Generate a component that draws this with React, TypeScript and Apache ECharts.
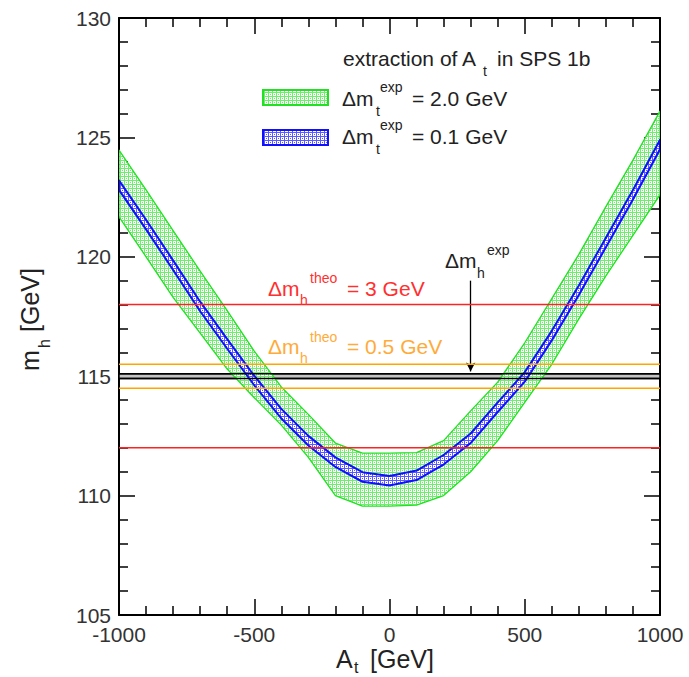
import React, { useEffect, useRef } from 'react';
import * as echarts from 'echarts';

// ---- data ----
const aGrid = [-1000, -900, -800, -700, -600, -500, -400, -300, -200, -100, 0, 100, 200, 300, 400, 500, 600, 700, 800, 900, 1000];
// Δm_t^exp = 2.0 GeV band
const greenUpper = [124.47, 122.8, 121.1, 119.4, 117.75, 116.05, 114.55, 113.4, 112.2, 111.78, 111.78, 111.8, 112.3, 113.55, 114.75, 116.4, 118.25, 120.1, 122.1, 124.05, 126.1];
const greenLower = [121.67, 120.0, 118.3, 116.8, 115.3, 114.1, 112.95, 111.6, 110.0, 109.56, 109.56, 109.6, 110.0, 111.0, 112.3, 113.9, 115.5, 117.4, 119.2, 120.9, 122.6];
// Δm_t^exp = 0.1 GeV band
const blueUpper = [123.2, 121.55, 119.85, 118.12, 116.55, 115.02, 113.63, 112.5, 111.6, 110.98, 110.82, 111.05, 111.7, 112.6, 113.9, 115.17, 116.9, 118.8, 120.8, 122.8, 124.9];
const blueLower = [122.8, 121.15, 119.45, 117.72, 116.15, 114.62, 113.23, 112.1, 111.2, 110.58, 110.42, 110.65, 111.3, 112.2, 113.5, 114.77, 116.5, 118.4, 120.4, 122.4, 124.5];
// horizontal reference levels
const theo3Levels = [112, 118];
const theo05Levels = [114.5, 115.5];
const expBand = [114.9, 115.1];
const arrowA = 300;
const arrowFrom = 119.0;
const arrowTo = 115.2;
const xRange = [-1000, 1000];
const yRange = [105, 130];

const FONT = '"Liberation Sans", Arial, Helvetica, sans-serif';

function makePattern(fg: string) {
  const c = document.createElement('canvas');
  c.width = 4;
  c.height = 4;
  const ctx = c.getContext('2d')!;
  ctx.fillStyle = '#ffffff';
  ctx.fillRect(0, 0, 4, 4);
  ctx.fillStyle = fg;
  ctx.fillRect(0, 0, 4, 1);
  ctx.fillRect(0, 0, 1, 4);
  ctx.fillRect(2, 2, 1, 1);
  return { image: c, repeat: 'repeat', imageWidth: 4, imageHeight: 4 } as any;
}

function txt(text: string, x: number, y: number, size: number, color: string, extra: any = {}) {
  return {
    type: 'text',
    x,
    y,
    silent: true,
    z: 100,
    ...extra,
    style: {
      text,
      fill: color,
      font: `${size}px ${FONT}`,
      textAlign: 'left',
      textVerticalAlign: 'middle',
      align: 'left',
      verticalAlign: 'middle',
    },
  };
}

function bandSeries(upper: number[], lower: number[], fill: any, stroke: string, lw: number, z: number) {
  return {
    type: 'custom',
    silent: true,
    clip: true,
    z,
    data: [[0, 110]],
    renderItem: (_params: any, api: any) => {
      const pts: number[][] = [];
      for (let i = 0; i < aGrid.length; i++) pts.push(api.coord([aGrid[i], upper[i]]));
      for (let i = aGrid.length - 1; i >= 0; i--) pts.push(api.coord([aGrid[i], lower[i]]));
      return {
        type: 'polygon',
        shape: { points: pts },
        style: { fill, stroke, lineWidth: lw, lineJoin: 'round' },
      };
    },
  };
}

function hLine(level: number, color: string, width: number, z: number) {
  return {
    type: 'line',
    silent: true,
    symbol: 'none',
    z,
    lineStyle: { color, width },
    data: [[xRange[0], level], [xRange[1], level]],
  };
}

export default function App() {
  const ref = useRef<HTMLDivElement>(null);
  useEffect(() => {
    if (!ref.current) return;
    const chart = echarts.init(ref.current, null, { renderer: 'svg' });
    const greenPat = makePattern('#6cf06c');
    const bluePat = makePattern('#5a5aff');

    const axisCommon = {
      type: 'value',
      axisLine: { show: true, onZero: false, lineStyle: { color: '#000', width: 2 } },
      axisTick: { show: true, inside: true, length: 16, lineStyle: { color: '#000', width: 1.5 } },
      minorTick: { show: true, splitNumber: 5, length: 9, lineStyle: { color: '#000', width: 1.5 } },
      splitLine: { show: false },
      minorSplitLine: { show: false },
    };

    const option: any = {
      animation: false,
      backgroundColor: '#ffffff',
      grid: { left: 119, right: 29, top: 18, bottom: 62, containLabel: false, outerBoundsMode: 'none' },
      xAxis: [
        {
          ...axisCommon,
          position: 'bottom',
          min: xRange[0],
          max: xRange[1],
          interval: 500,
          axisLabel: {
            show: true, color: '#333', fontSize: 21, fontFamily: FONT, margin: 9,
            showMinLabel: true, showMaxLabel: true, hideOverlap: false,
            formatter: (v: number) => String(v),
          },
        },
        {
          ...axisCommon,
          position: 'top',
          min: xRange[0],
          max: xRange[1],
          interval: 500,
          axisLabel: { show: false },
        },
      ],
      yAxis: [
        {
          ...axisCommon,
          position: 'left',
          min: yRange[0],
          max: yRange[1],
          interval: 5,
          axisLabel: {
            show: true, color: '#333', fontSize: 21, fontFamily: FONT, margin: 8,
            showMinLabel: true, showMaxLabel: true, hideOverlap: false,
            formatter: (v: number) => String(v),
          },
        },
        {
          ...axisCommon,
          position: 'right',
          min: yRange[0],
          max: yRange[1],
          interval: 5,
          axisLabel: { show: false },
        },
      ],
      series: [
        bandSeries(greenUpper, greenLower, greenPat, '#22e022', 1.3, 2),
        bandSeries(blueUpper, blueLower, bluePat, '#1010ff', 2, 3),
        ...theo3Levels.map((v) => hLine(v, '#ff2222', 1.5, 5)),
        ...theo05Levels.map((v) => hLine(v, '#ffa500', 1.5, 5)),
        {
          type: 'line',
          silent: true,
          symbol: 'none',
          z: 6,
          lineStyle: { color: '#000', width: 1.5 },
          data: [[xRange[0], expBand[0]], [xRange[1], expBand[0]]],
          markArea: {
            silent: true,
            itemStyle: { color: '#c4c4c4', borderColor: '#000', borderWidth: 1.5 },
            label: { show: false },
            data: [[{ yAxis: expBand[0] }, { yAxis: expBand[1] }]],
          },
          markLine: {
            silent: true,
            symbol: ['none', 'arrow'],
            symbolSize: [7, 9],
            label: { show: false },
            lineStyle: { color: '#000', width: 1.3, type: 'solid' },
            data: [[{ coord: [arrowA, arrowFrom] }, { coord: [arrowA, arrowTo] }]],
          },
        },
        hLine(expBand[1], '#000', 1.5, 6),
      ],
      graphic: [
        // legend title
        txt('extraction of A', 343, 58, 21, '#222'),
        txt('t', 483, 71, 14, '#222'),
        txt('in SPS 1b', 497, 58, 21, '#222'),
        // legend swatches
        { type: 'rect', silent: true, z: 100, shape: { x: 263, y: 90, width: 65, height: 15 }, style: { fill: greenPat, stroke: '#22e022', lineWidth: 2 } },
        { type: 'rect', silent: true, z: 100, shape: { x: 263, y: 130, width: 65, height: 15 }, style: { fill: bluePat, stroke: '#1010ff', lineWidth: 2 } },
        // legend entry 1
        txt('Δm', 342, 98, 21, '#222'),
        txt('t', 376, 111, 14, '#222'),
        txt('exp', 380, 87, 14, '#222'),
        txt('= 2.0 GeV', 412, 98, 21, '#222'),
        // legend entry 2
        txt('Δm', 342, 136, 21, '#222'),
        txt('t', 376, 149, 14, '#222'),
        txt('exp', 380, 125, 14, '#222'),
        txt('= 0.1 GeV', 412, 136, 21, '#222'),
        // red label
        txt('Δm', 268, 288, 21, '#ff3030'),
        txt('h', 300, 300, 14, '#ff3030'),
        txt('theo', 310, 278, 14, '#ff3030'),
        txt('= 3 GeV', 347, 288, 21, '#ff3030'),
        // orange label
        txt('Δm', 268, 346, 21, '#ffab3a'),
        txt('h', 300, 358, 14, '#ffab3a'),
        txt('theo', 310, 337, 14, '#ffab3a'),
        txt('= 0.5 GeV', 347, 346, 21, '#ffab3a'),
        // exp label
        txt('Δm', 445, 260, 21, '#222'),
        txt('h', 477, 273, 14, '#222'),
        txt('exp', 487, 250, 14, '#222'),
        // x-axis title
        txt('A', 336, 659, 25, '#222'),
        txt('t', 354, 667, 16, '#222'),
        txt('[GeV]', 370, 659, 25, '#222'),
        // y-axis title (rotated)
        txt('m', 30, 371, 25, '#222', { rotation: Math.PI / 2 }),
        txt('h', 44, 348, 16, '#222', { rotation: Math.PI / 2 }),
        txt('[GeV]', 30, 332, 25, '#222', { rotation: Math.PI / 2 }),
      ],
    };
    chart.setOption(option);
    return () => chart.dispose();
  }, []);
  return (
    <div style={{ position: 'fixed', left: 0, top: 0, width: 689, height: 677, background: '#fff' }}>
      <div ref={ref} style={{ width: 689, height: 677 }} />
    </div>
  );
}
